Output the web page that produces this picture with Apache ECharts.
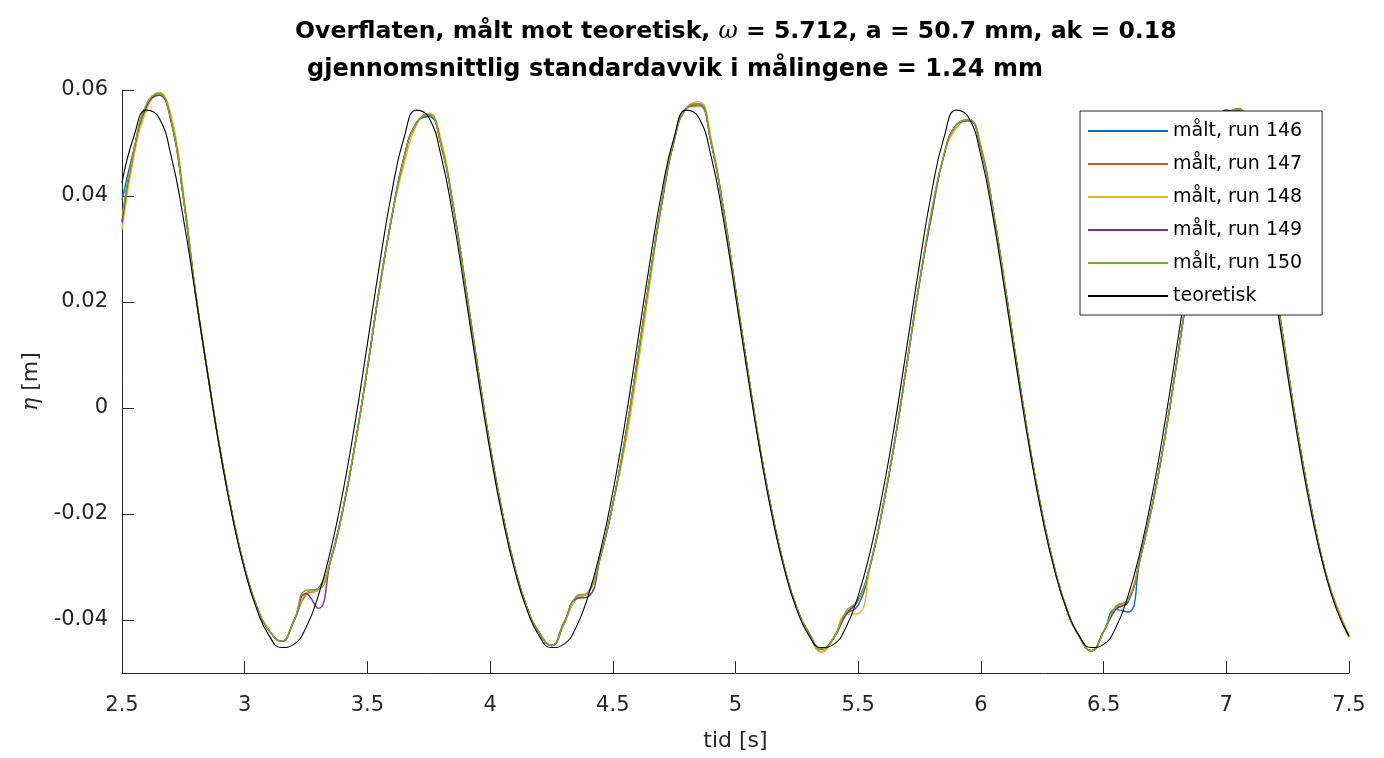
<!DOCTYPE html>
<html>
<head>
<meta charset="utf-8">
<title>Overflaten, målt mot teoretisk</title>
<script src="https://cdn.jsdelivr.net/npm/echarts@6/dist/echarts.min.js"></script>
<style>
  html, body { margin: 0; padding: 0; background: #fff; }
  #chart { width: 1384px; height: 758px; }
</style>
</head>
<body>
<div id="chart"></div>
<script>
// tid [s]
const tid = [
  2.5, 2.55, 2.6, 2.65, 2.7, 2.75, 2.8, 2.85, 2.9, 2.95,
  3.0, 3.05, 3.1, 3.15, 3.2, 3.25, 3.3, 3.35, 3.4, 3.45,
  3.5, 3.55, 3.6, 3.65, 3.7, 3.75, 3.8, 3.85, 3.9, 3.95,
  4.0, 4.05, 4.1, 4.15, 4.2, 4.25, 4.3, 4.35, 4.4, 4.45,
  4.5, 4.55, 4.6, 4.65, 4.7, 4.75, 4.8, 4.85, 4.9, 4.95,
  5.0, 5.05, 5.1, 5.15, 5.2, 5.25, 5.3, 5.35, 5.4, 5.45,
  5.5, 5.55, 5.6, 5.65, 5.7, 5.75, 5.8, 5.85, 5.9, 5.95,
  6.0, 6.05, 6.1, 6.15, 6.2, 6.25, 6.3, 6.35, 6.4, 6.45,
  6.5, 6.55, 6.6, 6.65, 6.7, 6.75, 6.8, 6.85, 6.9, 6.95,
  7.0, 7.05, 7.1, 7.15, 7.2, 7.25, 7.3, 7.35, 7.4, 7.45,
  7.5
];

// eta [m], målt
const run146 = [
  0.0392, 0.0490, 0.0570, 0.0590, 0.0542, 0.0398, 0.0216, 0.0063, -0.0080, -0.0202,
  -0.0302, -0.0376, -0.0420, -0.0440, -0.0402, -0.0350, -0.0340, -0.0288, -0.0192, -0.0068,
  0.0075, 0.0228, 0.0362, 0.0474, 0.0538, 0.0550, 0.0497, 0.0380, 0.0230, 0.0075,
  -0.0072, -0.0198, -0.0300, -0.0376, -0.0424, -0.0448, -0.0408, -0.0360, -0.0348, -0.0280,
  -0.0182, -0.0058, 0.0090, 0.0240, 0.0390, 0.0505, 0.0566, 0.0572, 0.0502, 0.0377,
  0.0224, 0.0070, -0.0076, -0.0200, -0.0302, -0.0378, -0.0425, -0.0455, -0.0434, -0.0390,
  -0.0372, -0.0295, -0.0188, -0.0060, 0.0088, 0.0238, 0.0372, 0.0478, 0.0534, 0.0544,
  0.0490, 0.0372, 0.0225, 0.0072, -0.0075, -0.0200, -0.0302, -0.0380, -0.0430, -0.0458,
  -0.0422, -0.0380, -0.0385, -0.0282, -0.0180, -0.0055, 0.0092, 0.0245, 0.0385, 0.0495,
  0.0552, 0.0560, 0.0505, 0.0385, 0.0232, 0.0075, -0.0072, -0.0198, -0.0303, -0.0378,
  -0.0432
];
const run147 = [
  0.0352, 0.0490, 0.0566, 0.0594, 0.0542, 0.0398, 0.0216, 0.0063, -0.0080, -0.0202,
  -0.0302, -0.0376, -0.0420, -0.0440, -0.0402, -0.0352, -0.0342, -0.0288, -0.0192, -0.0068,
  0.0075, 0.0228, 0.0362, 0.0474, 0.0538, 0.0553, 0.0497, 0.0380, 0.0230, 0.0075,
  -0.0072, -0.0198, -0.0300, -0.0376, -0.0424, -0.0448, -0.0405, -0.0360, -0.0348, -0.0280,
  -0.0182, -0.0058, 0.0090, 0.0245, 0.0390, 0.0505, 0.0566, 0.0570, 0.0502, 0.0377,
  0.0224, 0.0070, -0.0076, -0.0200, -0.0302, -0.0378, -0.0425, -0.0460, -0.0434, -0.0390,
  -0.0362, -0.0295, -0.0188, -0.0060, 0.0088, 0.0238, 0.0368, 0.0478, 0.0534, 0.0544,
  0.0490, 0.0372, 0.0225, 0.0072, -0.0075, -0.0200, -0.0302, -0.0380, -0.0430, -0.0458,
  -0.0422, -0.0376, -0.0362, -0.0282, -0.0180, -0.0055, 0.0092, 0.0245, 0.0385, 0.0495,
  0.0552, 0.0562, 0.0505, 0.0385, 0.0232, 0.0075, -0.0072, -0.0198, -0.0303, -0.0378,
  -0.0432
];
const run148 = [
  0.0336, 0.0478, 0.0562, 0.0596, 0.0552, 0.0408, 0.0216, 0.0063, -0.0080, -0.0202,
  -0.0302, -0.0376, -0.0420, -0.0440, -0.0402, -0.0350, -0.0342, -0.0288, -0.0192, -0.0068,
  0.0075, 0.0228, 0.0362, 0.0462, 0.0534, 0.0556, 0.0506, 0.0380, 0.0230, 0.0075,
  -0.0072, -0.0198, -0.0300, -0.0376, -0.0424, -0.0448, -0.0408, -0.0360, -0.0348, -0.0280,
  -0.0182, -0.0072, 0.0072, 0.0230, 0.0390, 0.0505, 0.0566, 0.0578, 0.0510, 0.0377,
  0.0224, 0.0070, -0.0076, -0.0200, -0.0302, -0.0378, -0.0425, -0.0460, -0.0434, -0.0390,
  -0.0388, -0.0295, -0.0188, -0.0060, 0.0088, 0.0238, 0.0372, 0.0478, 0.0528, 0.0544,
  0.0496, 0.0372, 0.0225, 0.0072, -0.0075, -0.0200, -0.0302, -0.0380, -0.0430, -0.0458,
  -0.0422, -0.0380, -0.0362, -0.0282, -0.0180, -0.0055, 0.0092, 0.0245, 0.0385, 0.0495,
  0.0552, 0.0562, 0.0505, 0.0385, 0.0232, 0.0075, -0.0072, -0.0198, -0.0303, -0.0372,
  -0.0428
];
const run149 = [
  0.0350, 0.0490, 0.0570, 0.0591, 0.0542, 0.0398, 0.0216, 0.0063, -0.0080, -0.0202,
  -0.0302, -0.0376, -0.0420, -0.0440, -0.0402, -0.0350, -0.0378, -0.0288, -0.0192, -0.0068,
  0.0075, 0.0228, 0.0362, 0.0474, 0.0538, 0.0553, 0.0497, 0.0380, 0.0230, 0.0075,
  -0.0072, -0.0198, -0.0300, -0.0376, -0.0424, -0.0448, -0.0408, -0.0360, -0.0356, -0.0280,
  -0.0182, -0.0058, 0.0090, 0.0245, 0.0385, 0.0505, 0.0566, 0.0574, 0.0502, 0.0377,
  0.0224, 0.0070, -0.0076, -0.0200, -0.0302, -0.0378, -0.0425, -0.0455, -0.0434, -0.0390,
  -0.0362, -0.0295, -0.0188, -0.0060, 0.0088, 0.0238, 0.0365, 0.0478, 0.0534, 0.0542,
  0.0490, 0.0372, 0.0225, 0.0072, -0.0075, -0.0200, -0.0302, -0.0380, -0.0430, -0.0458,
  -0.0422, -0.0380, -0.0366, -0.0282, -0.0180, -0.0055, 0.0092, 0.0245, 0.0385, 0.0495,
  0.0552, 0.0562, 0.0505, 0.0385, 0.0232, 0.0075, -0.0072, -0.0198, -0.0303, -0.0378,
  -0.0432
];
const run150 = [
  0.0362, 0.0490, 0.0574, 0.0593, 0.0542, 0.0398, 0.0216, 0.0063, -0.0080, -0.0202,
  -0.0302, -0.0376, -0.0420, -0.0440, -0.0402, -0.0344, -0.0342, -0.0288, -0.0192, -0.0068,
  0.0075, 0.0228, 0.0362, 0.0474, 0.0538, 0.0553, 0.0497, 0.0380, 0.0230, 0.0075,
  -0.0072, -0.0198, -0.0300, -0.0376, -0.0424, -0.0448, -0.0408, -0.0356, -0.0348, -0.0280,
  -0.0182, -0.0058, 0.0090, 0.0245, 0.0390, 0.0505, 0.0566, 0.0574, 0.0502, 0.0377,
  0.0224, 0.0070, -0.0076, -0.0200, -0.0302, -0.0378, -0.0425, -0.0455, -0.0434, -0.0384,
  -0.0362, -0.0295, -0.0188, -0.0060, 0.0088, 0.0238, 0.0372, 0.0478, 0.0534, 0.0544,
  0.0490, 0.0372, 0.0225, 0.0072, -0.0075, -0.0200, -0.0302, -0.0380, -0.0430, -0.0458,
  -0.0422, -0.0374, -0.0362, -0.0282, -0.0180, -0.0055, 0.0092, 0.0245, 0.0385, 0.0495,
  0.0552, 0.0565, 0.0505, 0.0385, 0.0232, 0.0075, -0.0072, -0.0198, -0.0303, -0.0378,
  -0.0432
];

// eta [m], teoretisk
const teoretisk = [
  0.0425, 0.0515, 0.0562, 0.0548, 0.0476, 0.0358, 0.0212, 0.0061, -0.0082, -0.0206,
  -0.0306, -0.0381, -0.0430, -0.0452, -0.0446, -0.0414, -0.0354, -0.0269, -0.0159, -0.0027,
  0.0121, 0.0272, 0.0409, 0.0511, 0.0562, 0.0548, 0.0476, 0.0358, 0.0212, 0.0061,
  -0.0082, -0.0206, -0.0306, -0.0381, -0.0430, -0.0452, -0.0446, -0.0414, -0.0354, -0.0269,
  -0.0159, -0.0027, 0.0121, 0.0272, 0.0409, 0.0511, 0.0562, 0.0548, 0.0476, 0.0358,
  0.0212, 0.0061, -0.0082, -0.0206, -0.0306, -0.0381, -0.0430, -0.0452, -0.0446, -0.0414,
  -0.0354, -0.0269, -0.0159, -0.0027, 0.0121, 0.0272, 0.0409, 0.0511, 0.0562, 0.0548,
  0.0476, 0.0358, 0.0212, 0.0061, -0.0082, -0.0206, -0.0306, -0.0381, -0.0430, -0.0452,
  -0.0446, -0.0414, -0.0354, -0.0269, -0.0159, -0.0027, 0.0121, 0.0272, 0.0409, 0.0511,
  0.0562, 0.0548, 0.0476, 0.0358, 0.0212, 0.0061, -0.0082, -0.0206, -0.0306, -0.0381,
  -0.0430
];

const seriesNames = ['målt, run 146', 'målt, run 147', 'målt, run 148', 'målt, run 149', 'målt, run 150', 'teoretisk'];
const seriesValues = [run146, run147, run148, run149, run150, teoretisk];
const seriesColors = ['#0072BD', '#D95319', '#EDB120', '#7E2F8E', '#77AC30', '#000000'];
const yTicks = [-0.04, -0.02, 0, 0.02, 0.04, 0.06];

const FONT = "'DejaVu Sans', Verdana, sans-serif";
const AXIS_COLOR = '#262626';

const chart = echarts.init(document.getElementById('chart'), null, { renderer: 'canvas' });

const option = {
  backgroundColor: '#ffffff',
  animation: false,
  title: [
    {
      text: '{b|Overflaten, målt mot teoretisk, }{w|ω}{b| = 5.712, a = 50.7 mm, ak = 0.18}',
      left: 290,
      top: 15,
      textStyle: {
        rich: {
          b: { fontFamily: FONT, fontSize: 23.6, fontWeight: 'bold', color: '#000' },
          w: { fontFamily: "'DejaVu Serif', serif", fontSize: 23.6, fontStyle: 'italic', fontWeight: 'normal', color: '#000' },
        },
      },
    },
    {
      text: 'gjennomsnittlig standardavvik i målingene = 1.24 mm',
      left: 302,
      top: 53,
      textStyle: { fontFamily: FONT, fontSize: 24, fontWeight: 'bold', color: '#000' },
    },
  ],
  legend: {
    orient: 'vertical',
    left: 1080,
    top: 111,
    data: seriesNames,
    icon: 'rect',
    itemWidth: 80,
    itemHeight: 2,
    itemGap: 9,
    padding: [8, 20, 7, 8],
    backgroundColor: '#ffffff',
    borderColor: AXIS_COLOR,
    borderWidth: 1,
    borderRadius: 0,
    textStyle: { fontFamily: FONT, fontSize: 19, lineHeight: 24, color: '#000' },
  },
  grid: { left: 122, right: 35, top: 90, bottom: 85, containLabel: false },
  xAxis: {
    type: 'value',
    min: 2.5,
    max: 7.5,
    interval: 0.5,
    name: 'tid [s]',
    nameLocation: 'middle',
    nameGap: 57,
    nameTextStyle: { fontFamily: FONT, fontSize: 22, color: AXIS_COLOR },
    axisLine: { show: true, onZero: false, lineStyle: { color: AXIS_COLOR, width: 1 } },
    axisTick: { show: true, inside: true, length: 12, lineStyle: { color: AXIS_COLOR } },
    axisLabel: { fontFamily: FONT, fontSize: 21, color: AXIS_COLOR, margin: 22 },
    splitLine: { show: false },
  },
  yAxis: {
    type: 'value',
    min: -0.05,
    max: 0.06,
    name: '{e|η} [m]',
    nameLocation: 'middle',
    nameGap: 76,
    nameTextStyle: {
      fontFamily: FONT, fontSize: 22, color: AXIS_COLOR,
      rich: { e: { fontFamily: "'DejaVu Serif', serif", fontStyle: 'italic', fontSize: 22, color: AXIS_COLOR } },
    },
    axisLine: { show: true, onZero: false, lineStyle: { color: AXIS_COLOR, width: 1 } },
    axisTick: { show: true, inside: true, length: 12, customValues: yTicks, lineStyle: { color: AXIS_COLOR } },
    axisLabel: {
      fontFamily: FONT, fontSize: 21, color: AXIS_COLOR, margin: 14,
      customValues: yTicks,
      formatter: (v) => (Math.abs(v) < 1e-9 ? '0' : v.toFixed(2)),
    },
    splitLine: { show: false },
  },
  series: seriesNames.map((name, i) => ({
    name,
    type: 'line',
    data: tid.map((t, j) => [t, seriesValues[i][j]]),
    showSymbol: false,
    symbol: 'none',
    smooth: 0.5,
    lineStyle: { color: seriesColors[i], width: i === 5 ? 1.1 : 1.4 },
    itemStyle: { color: seriesColors[i] },
    emphasis: { disabled: true },
  })),
};

chart.setOption(option);
</script>
</body>
</html>
